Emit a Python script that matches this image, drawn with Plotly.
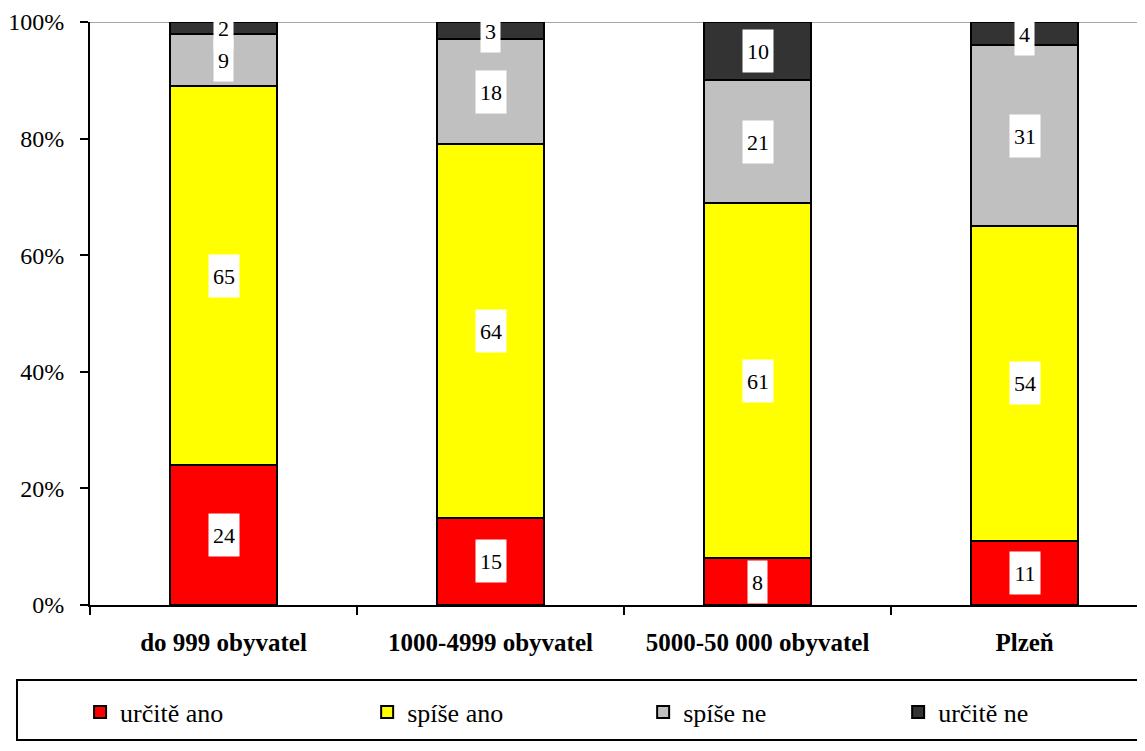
import plotly.graph_objects as go

categories = ["do 999 obyvatel", "1000-4999 obyvatel", "5000-50 000 obyvatel", "Plzeň"]
series_names = ["určitě ano", "spíše ano", "spíše ne", "určitě ne"]
urcite_ano = [24, 15, 8, 11]
spise_ano = [65, 64, 61, 54]
spise_ne = [9, 18, 21, 31]
urcite_ne = [2, 3, 10, 4]
y_ticks = [0, 20, 40, 60, 80, 100]

series_values = [urcite_ano, spise_ano, spise_ne, urcite_ne]
colors = ["#FF0000", "#FFFF00", "#C0C0C0", "#333333"]
FONT = "Liberation Serif"

legend_ids = ["legend", "legend2", "legend3", "legend4"]
legend_x = [-0.0094, 0.2627, 0.5243, 0.766]

fig = go.Figure()
for name, vals, col, lid in zip(series_names, series_values, colors, legend_ids):
    fig.add_trace(go.Bar(
        x=categories, y=vals, name=name, width=0.4, legend=lid,
        marker=dict(color=col, line=dict(color="black", width=2)),
    ))

# value labels with white boxes, centered on segments
annotations = []
for j, cat in enumerate(categories):
    base = 0
    for vals in series_values:
        v = vals[j]
        txt = str(v)
        annotations.append(dict(
            x=cat, y=base + v / 2, xref="x", yref="y", text=txt,
            showarrow=False, bgcolor="white", width=11 * len(txt) + 8, height=42,
            borderpad=0, font=dict(family=FONT, size=22, color="black"),
        ))
        base += v

legend_common = dict(
    orientation="h", xanchor="left", y=-0.1835, yanchor="middle",
    bgcolor="rgba(0,0,0,0)", font=dict(family=FONT, size=26, color="black"),
)
layout_legends = {}
for lid, lx in zip(legend_ids, legend_x):
    layout_legends[lid] = dict(legend_common, x=lx)

# page body has an 8px margin; size the figure so it fills the 1145x751 window
fig.update_layout(
    width=1137, height=743,
    margin=dict(l=82, r=0, t=14, b=146, autoexpand=False),
    paper_bgcolor="white", plot_bgcolor="white",
    barmode="stack",
    font=dict(family=FONT, color="black"),
    annotations=annotations,
    showlegend=True,
    shapes=[
        dict(type="line", xref="paper", yref="y", x0=0, x1=1, y0=100, y1=100,
             line=dict(color="#A6A6A6", width=2), layer="below"),
        dict(type="rect", xref="paper", yref="paper", x0=-0.0692, x1=0.9962,
             y0=-0.2316, y1=-0.1286, line=dict(color="black", width=2)),
    ],
    **layout_legends,
)
fig.update_xaxes(
    type="category", range=[-0.5, 3.451], tickson="boundaries", ticks="outside",
    ticklen=8, tickwidth=2,
    tickcolor="black", showline=True, linecolor="black", linewidth=2, showgrid=False,
    tickfont=dict(family=FONT, size=25, color="black", weight="bold"),
    ticklabelstandoff=14, automargin=False,
)
fig.update_yaxes(
    range=[0, 100], tickvals=y_ticks, ticktext=[f"{t}%" for t in y_ticks],
    ticks="outside", ticklen=8, tickwidth=2, tickcolor="black",
    showline=True, linecolor="black", linewidth=2, showgrid=False, zeroline=False,
    tickfont=dict(family=FONT, size=24, color="black"), ticklabelstandoff=11,
    automargin=False,
)

fig.write_html("out.html")
